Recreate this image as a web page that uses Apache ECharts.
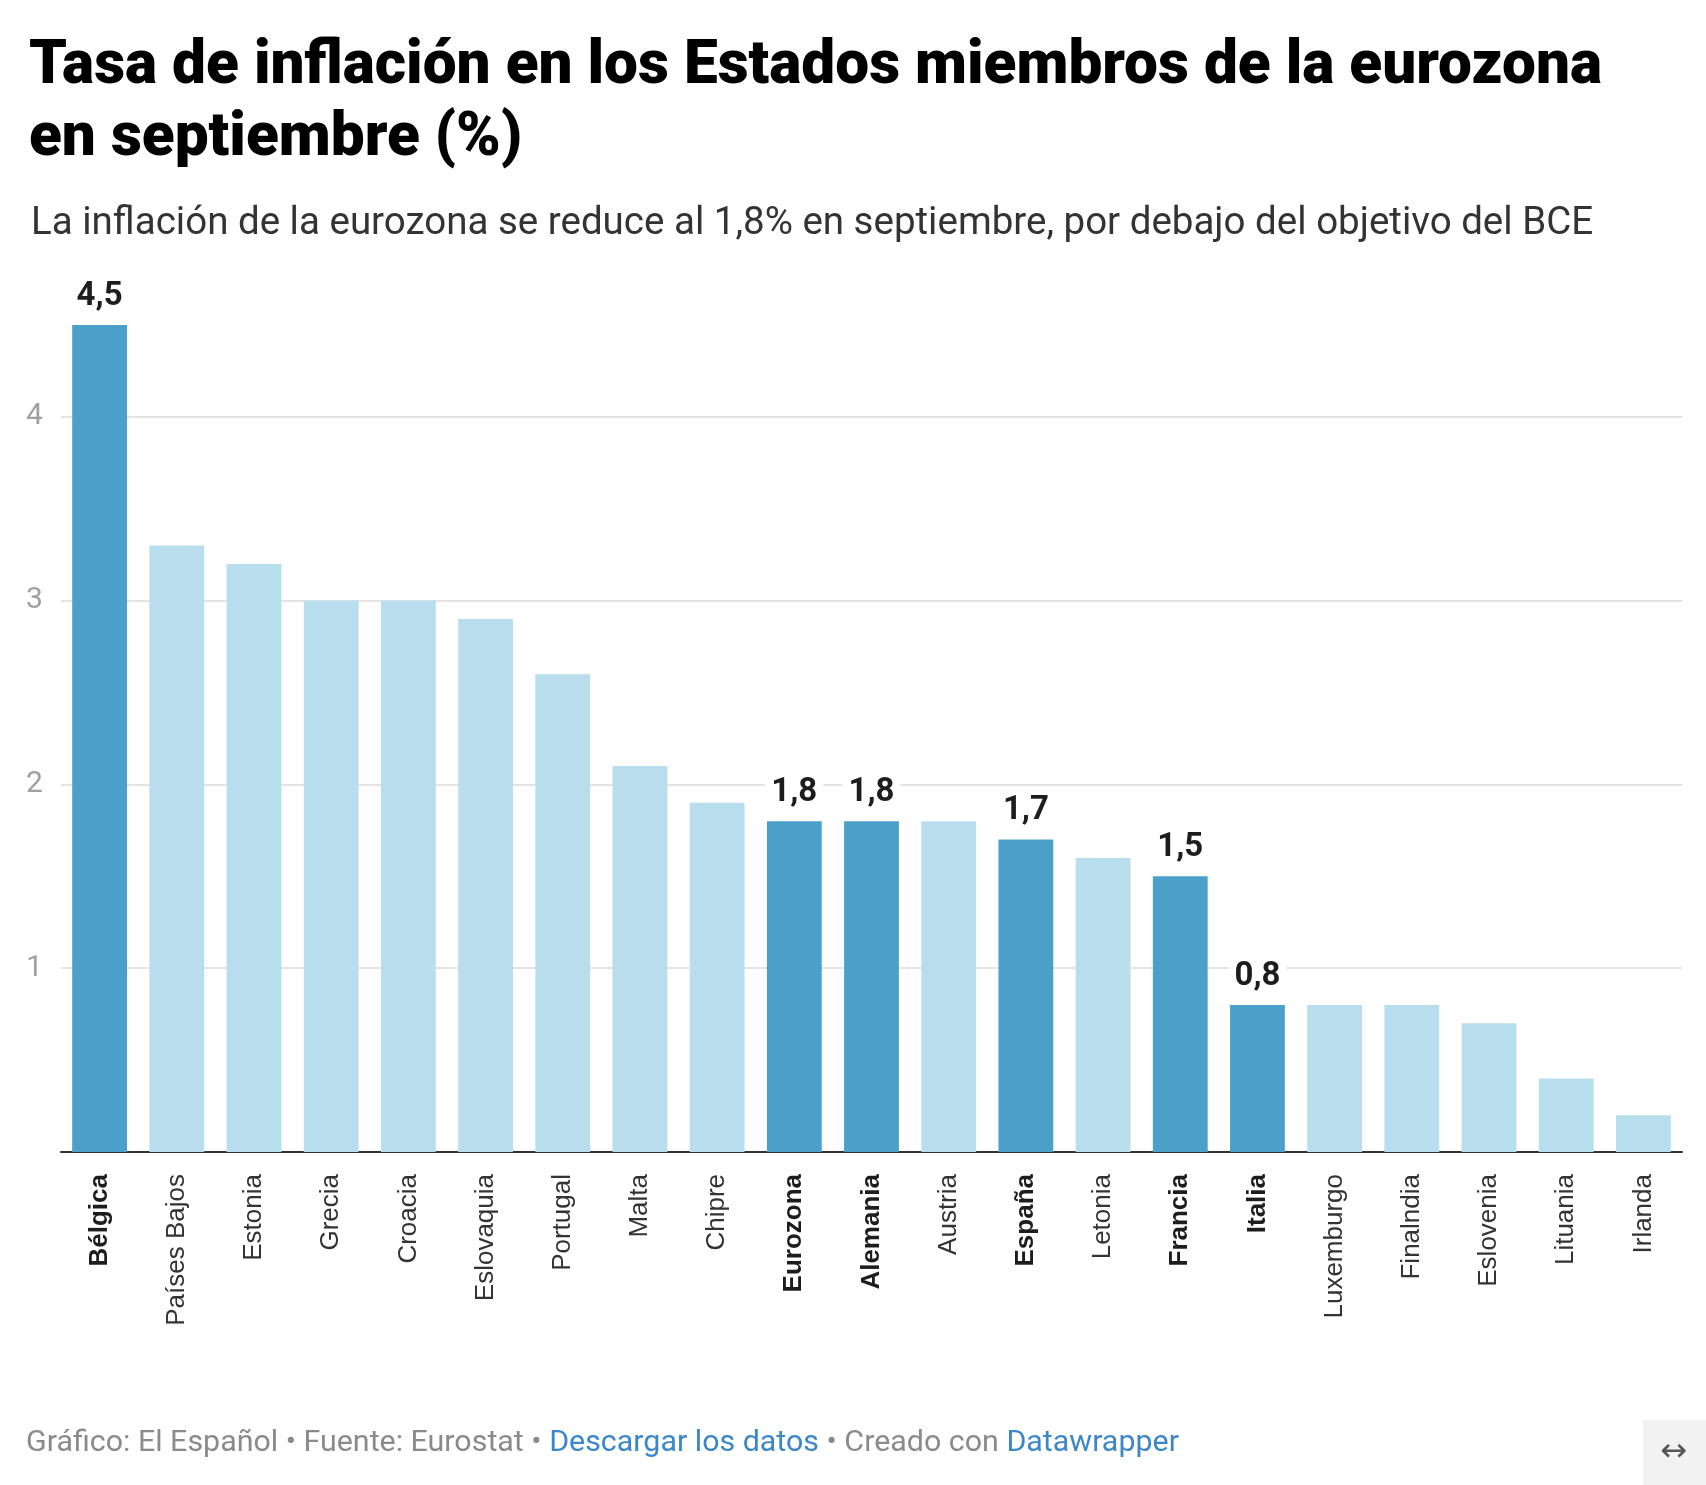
<!DOCTYPE html>
<html>
<head>
<meta charset="utf-8">
<script src="https://cdn.jsdelivr.net/npm/echarts@6/dist/echarts.min.js"></script>
<style>
html,body{margin:0;padding:0;background:#fff;}
#chart{width:1706px;height:1485px;}
</style>
</head>
<body>
<div id="chart"></div>
<script>
const categories = ['Bélgica','Países Bajos','Estonia','Grecia','Croacia','Eslovaquia','Portugal','Malta','Chipre','Eurozona','Alemania','Austria','España','Letonia','Francia','Italia','Luxemburgo','Finalndia','Eslovenia','Lituania','Irlanda'];
const values = [4.5,3.3,3.2,3.0,3.0,2.9,2.6,2.1,1.9,1.8,1.8,1.8,1.7,1.6,1.5,0.8,0.8,0.8,0.7,0.4,0.2];
const highlighted = ['Bélgica','Eurozona','Alemania','España','Francia','Italia'];
const yTicks = [0,1,2,3,4];

const titleText = 'Tasa de inflación en los Estados miembros de la eurozona\nen septiembre (%)';
const subtitleText = 'La inflación de la eurozona se reduce al 1,8% en septiembre, por debajo del objetivo del BCE';

const DARK = '#4ba0ca';
const LIGHT = '#b8dded';

const chart = echarts.init(document.getElementById('chart'), null, {renderer:'canvas'});

const seriesData = categories.map((c, i) => {
  const hi = highlighted.includes(c);
  return {
    value: values[i],
    itemStyle: {color: hi ? DARK : LIGHT},
    label: {show: hi}
  };
});

chart.setOption({
  animation: false,
  backgroundColor: '#fff',
  title: [
    {
      text: titleText,
      left: 24, top: 27,
      textStyle: {fontFamily: 'Roboto', fontWeight: 900, fontSize: 60.3, lineHeight: 72, color: '#000'}
    },
    {
      text: subtitleText,
      left: 26, top: 198,
      textStyle: {fontFamily: 'Roboto', fontWeight: 'normal', fontSize: 38.5, lineHeight: 42, color: '#333'}
    }
  ],
  grid: {left: 61, right: 24, top: 325, bottom: 333, containLabel: false},
  xAxis: {
    type: 'category',
    data: categories,
    axisLine: {lineStyle: {color: '#333', width: 2}},
    axisTick: {show: false},
    axisLabel: {
      rotate: 90,
      margin: 22,
      interval: 0,
      fontFamily: 'Liberation Sans, Arial',
      fontSize: 26,
      color: '#333',
      formatter: (v) => highlighted.includes(v) ? '{b|' + v + '}' : '{n|' + v + '}',
      rich: {
        b: {fontFamily: 'Liberation Sans, Arial', fontSize: 26, fontWeight: 'bold', color: '#1d1d1d'},
        n: {fontFamily: 'Liberation Sans, Arial', fontSize: 26, color: '#333'}
      }
    }
  },
  yAxis: {
    type: 'value',
    min: yTicks[0],
    max: 4.5,
    interval: 1,
    axisLine: {show: false},
    axisTick: {show: false},
    splitLine: {lineStyle: {color: ['#e3e3e3','#e3e3e3','#e3e3e3','#e3e3e3','#e3e3e3','rgba(0,0,0,0)'], width: 2}},
    axisLabel: {
      align: 'left',
      margin: 35,
      fontFamily: 'Roboto',
      fontSize: 30,
      color: '#a0a0a0',
      formatter: (v) => (yTicks.includes(v) && v !== 0) ? String(v) : ''
    }
  },
  series: [{
    type: 'bar',
    data: seriesData,
    barCategoryGap: '29%',
    label: {
      position: 'top',
      distance: 12,
      fontFamily: 'Roboto',
      fontWeight: 'bold',
      fontSize: 33,
      color: '#1d1d1d',
      backgroundColor: '#fff',
      padding: [2, 6, 0, 6],
      formatter: (p) => String(p.value).replace('.', ',') + (Number.isInteger(p.value) ? ',0' : '')
    }
  }],
  graphic: [
    {
      type: 'text',
      left: 26, top: 1428,
      style: {
        text: '{g|Gráfico: El Español • Fuente: Eurostat • }{b|Descargar los datos}{g| • Creado con }{b|Datawrapper}',
        rich: {
          g: {fontFamily: 'Roboto', fontSize: 30.4, fill: '#8a8a8a'},
          b: {fontFamily: 'Roboto', fontSize: 30.4, fill: '#3b87c8'}
        }
      }
    },
    {
      type: 'rect',
      shape: {x: 1643, y: 1420, width: 63, height: 65},
      style: {fill: '#f2f2f2'}
    },
    {
      type: 'text',
      x: 1674, y: 1453,
      style: {text: '↔', fontSize: 32, fill: '#555', align: 'center', verticalAlign: 'middle', fontFamily: 'DejaVu Sans'}
    }
  ]
});
</script>
</body>
</html>
